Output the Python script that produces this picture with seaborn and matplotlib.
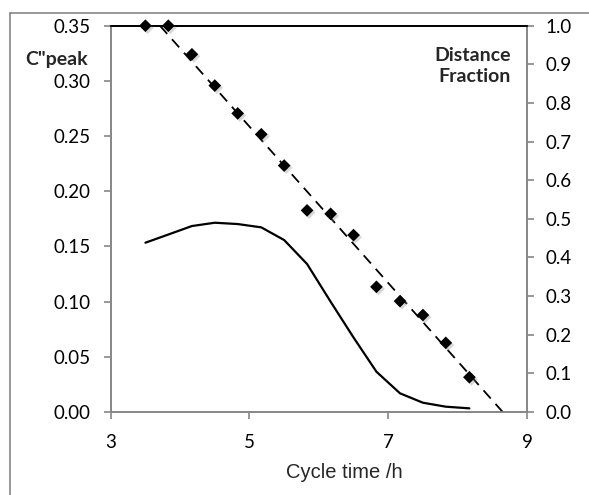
import matplotlib
matplotlib.use("Agg")
import matplotlib.pyplot as plt
import matplotlib.patheffects as pe
from matplotlib.lines import Line2D
import seaborn as sns
import pandas as pd

# ---- data ----
cycle_time = [3.5, 3.83, 4.17, 4.5, 4.83, 5.17, 5.5, 5.83, 6.17, 6.5, 6.83, 7.17, 7.5, 7.83, 8.17]
c_peak = [0.1534, 0.1608, 0.1685, 0.1715, 0.1703, 0.1673, 0.1558, 0.1341, 0.0999,
          0.0675, 0.0365, 0.0169, 0.0084, 0.0048, 0.0033]
distance_fraction = [1.0, 1.0, 0.926, 0.845, 0.773, 0.719, 0.638, 0.522, 0.513,
                     0.458, 0.324, 0.287, 0.251, 0.179, 0.090]
fit_x = [3.71, 8.65]
fit_y = [1.0, 0.0]
x_ticks = [3, 5, 7, 9]
left_ticks = [0.00, 0.05, 0.10, 0.15, 0.20, 0.25, 0.30, 0.35]
right_ticks = [0.0, 0.1, 0.2, 0.3, 0.4, 0.5, 0.6, 0.7, 0.8, 0.9, 1.0]

sns.set_theme(style="white")
plt.rcParams['font.family'] = ['Lato', 'DejaVu Sans']

gray = "#868686"
fig = plt.figure(figsize=(5.89, 4.95), dpi=100)
ax = fig.add_axes([0.188, 0.1677, 0.7067, 0.7803])
ax2 = ax.twinx()

df_c = pd.DataFrame({"t": cycle_time, "c": c_peak})
df_d = pd.DataFrame({"t": cycle_time, "d": distance_fraction})
df_f = pd.DataFrame({"t": fit_x, "f": fit_y})

sns.lineplot(data=df_c, x="t", y="c", ax=ax, color="black", linewidth=1.6, sort=False)
sns.lineplot(data=df_f, x="t", y="f", ax=ax2, color="black", linewidth=1.3,
             dashes=False, sort=False)
ax2.lines[-1].set_dashes((6, 4))
sns.scatterplot(data=df_d, x="t", y="d", ax=ax2, marker="D", s=42, color="black",
                edgecolor="black", linewidth=0, clip_on=False, zorder=5)
for c in ax2.collections:
    c.set_path_effects([pe.SimplePatchShadow(offset=(1.5, -1.5), alpha=0.3, shadow_rgbFace="gray"), pe.Normal()])

ax.set_xlim(3, 9)
ax.set_ylim(0, 0.35)
ax2.set_ylim(0, 1.0)
ax.set_xticks(x_ticks)
ax.set_xticklabels([str(v) for v in x_ticks])
ax.set_yticks(left_ticks)
ax.set_yticklabels([f"{v:.2f}" for v in left_ticks])
ax2.set_yticks(right_ticks)
ax2.set_yticklabels([f"{v:.1f}" for v in right_ticks])

for a in (ax, ax2):
    a.set_ylabel("")
    a.set_xlabel("")
    for s in a.spines.values():
        s.set_color(gray)
        s.set_linewidth(1.2)
    a.spines["top"].set_color("black")
    a.spines["top"].set_linewidth(1.3)
    a.tick_params(axis="both", which="major", length=5, width=1.2, color=gray,
                  labelsize=13.5, labelcolor="black")
    a.grid(False)
ax.tick_params(axis="y", left=True, right=False, direction="out", pad=9.5)
ax.tick_params(axis="x", bottom=True, direction="out", pad=11)
ax2.tick_params(axis="y", right=True, left=False, direction="out", pad=8.5)

fig.text(344/589, 1 - 473/495, "Cycle time /h", fontsize=14.5,
         family=["Liberation Sans"], ha="center", va="center")

fig.text(25/589, 1 - 59/495, "C\"peak", fontsize=14, fontweight="bold",
         ha="left", va="center")
fig.text(511/589, 1 - 66/495, "Distance\nFraction", fontsize=14, fontweight="bold",
         ha="right", va="center", linespacing=1.3)

# outer chart frame
fig.add_artist(Line2D([10/589, 10/589], [0, 1 - 13/495], transform=fig.transFigure,
                      color=gray, linewidth=1.2))
fig.add_artist(Line2D([10/589, 1], [1 - 13/495, 1 - 13/495], transform=fig.transFigure,
                      color=gray, linewidth=1.2))

fig.savefig("out.png", dpi=100)
